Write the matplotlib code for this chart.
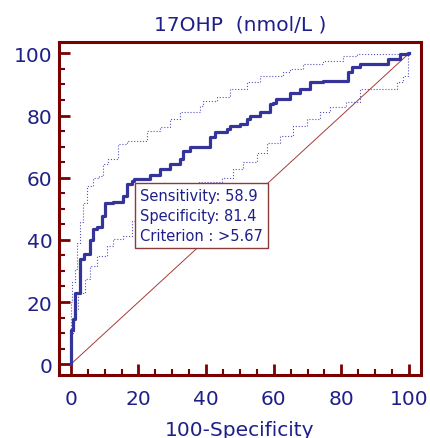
import matplotlib
matplotlib.use('Agg')
import matplotlib.pyplot as plt
from matplotlib.ticker import MultipleLocator

# ROC curve (100-Specificity, Sensitivity)
roc_x = [0, 0, 0.6, 1.3, 2.7, 3.9, 5.7, 6.7, 7.7, 9.2, 10.1, 12.6, 15.5, 16.5, 18.0, 18.6,
         19.5, 23.4, 26.4, 29.3, 32.3, 33.3, 35.2, 36.2, 41.1, 42.6, 46.1, 47.0, 50.0, 52.0,
         53.0, 55.9, 58.8, 59.8, 60.8, 63.8, 64.8, 66.7, 67.7, 70.7, 74.6, 82.0, 83.0, 85.4,
         93.8, 97.3, 98.7, 99.7, 100]
roc_y = [0, 8, 11, 14.5, 23, 34, 35.4, 40, 43.5, 44, 47.6, 52, 52.2, 54, 58, 58.9,
         59.5, 59.5, 60.8, 62.8, 64.4, 66, 68.5, 69.8, 69.8, 73, 74.6, 75.6, 76.7, 77.2,
         78.9, 79.9, 81, 83.7, 84, 85.3, 85.3, 87.4, 87.4, 88.5, 90.7, 91.2, 93.9, 95.5,
         96.5, 98.2, 99.8, 99.8, 100]

# upper confidence bound
up_x = [0, 0.3, 1.3, 1.8, 2.7, 3.7, 4.7, 6.7, 8.2, 9.6, 11.1, 14.0, 16.5, 22.4, 26.4, 29.3,
        32.3, 38.2, 39.2, 43.1, 47.0, 52.0, 55.9, 62.8, 64.8, 68.7, 74.6, 80.5, 84.5, 98.2, 100]
up_y = [0, 20, 26.4, 30.6, 39, 45.6, 52, 57.4, 60, 60.6, 64.4, 66, 70.8, 71.9, 75, 76.2,
        78.9, 81, 83.1, 84.7, 85.8, 88.5, 90.7, 92.8, 93.9, 94.9, 96.5, 97.6, 99.2, 99.8, 100]

# lower confidence bound
lo_x = [0, 0.8, 2.2, 4.2, 5.7, 7.7, 10.6, 12.6, 15.5, 18.0, 25, 32, 38, 44.6, 48.0, 51.0,
        54.9, 57.9, 61.8, 65.7, 69.7, 73.6, 76.6, 81.5, 85.4, 88.4, 96.3, 98.2, 99.6, 99.6, 100]
lo_y = [0, 10.2, 17.7, 23, 27.4, 31.6, 34.9, 38, 40.2, 41.3, 46, 51, 55, 58.5, 60, 62.8,
        64.9, 68.1, 71.3, 73.5, 76.7, 78.9, 81, 82.6, 84.2, 88.5, 88.5, 90.7, 92.8, 99.8, 100]

ticks = [0, 20, 40, 60, 80, 100]
info_text = 'Sensitivity: 58.9\nSpecificity: 81.4\nCriterion : >5.67'

navy = '#1f1f8a'
frame = '#7a0000'

fig = plt.figure(figsize=(4.30, 4.39), dpi=100)
ax = fig.add_axes([0.138, 0.144, 0.840, 0.757])

ax.plot([0, 100], [0, 100], color='#a83a3a', lw=0.7)
ax.plot(up_x, up_y, color='#5555c0', lw=0.8, ls=':', drawstyle='steps-pre')
ax.plot(lo_x, lo_y, color='#5555c0', lw=0.8, ls=':', drawstyle='steps-pre')
ax.plot(roc_x, roc_y, color='#34349a', lw=2.3, drawstyle='steps-pre')

ax.text(20.4, 56.6, info_text, fontsize=10.5, color=navy, va='top', ha='left',
        linespacing=1.4, zorder=5,
        bbox=dict(boxstyle='square,pad=0.35', fc='white', ec='#8b3a3a', lw=1))

ax.set_xlim(-3.4, 103.4)
ax.set_ylim(-3.4, 103.5)
ax.set_xticks(ticks)
ax.set_yticks(ticks)
ax.xaxis.set_minor_locator(MultipleLocator(5))
ax.yaxis.set_minor_locator(MultipleLocator(5))
ax.tick_params(which='major', direction='in', length=8, width=2, color=frame,
               labelsize=14.5, labelcolor=navy)
ax.tick_params(axis='x', which='major', pad=10)
ax.tick_params(axis='y', which='major', pad=5)
ax.tick_params(which='minor', direction='in', length=4, width=1.5, color=frame)
for s in ax.spines.values():
    s.set_color(frame)
    s.set_linewidth(2.2)

ax.set_title('17OHP  (nmol/L )', fontsize=14.5, color=navy, pad=9)
ax.set_xlabel('100-Specificity', fontsize=14.5, color=navy, labelpad=9)

fig.savefig('out.png', dpi=100)
